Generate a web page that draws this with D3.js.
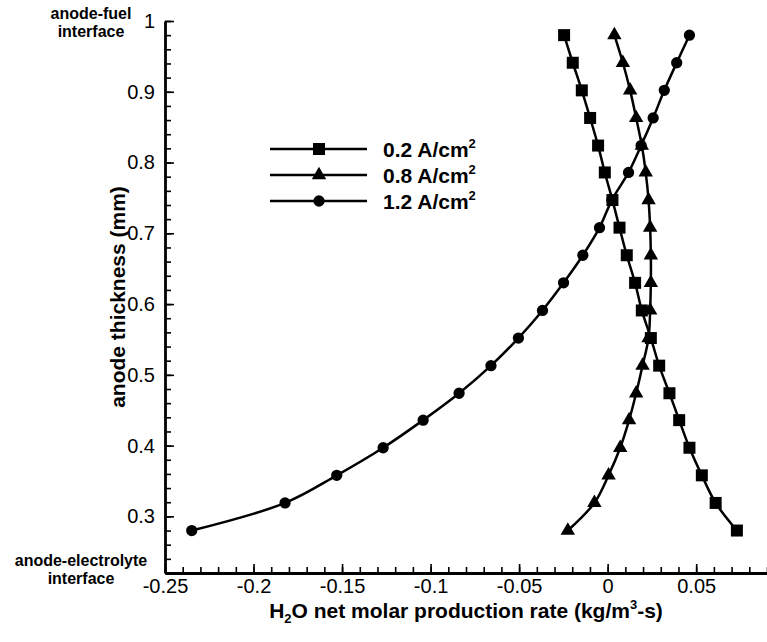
<!DOCTYPE html>
<html>
<head>
<meta charset="utf-8">
<script src="https://cdn.jsdelivr.net/npm/d3@7"></script>
<style>
  body { margin: 0; background: #fff; }
  text { font-family: 'Liberation Sans', Arial, Helvetica, sans-serif; }
</style>
</head>
<body>
<div id="chart"></div>
<script>
// anode positions (mm) shared by all three curves, bottom -> top
var thickness = [0.28, 0.319, 0.358, 0.397, 0.436, 0.474, 0.513, 0.552, 0.591, 0.63,
  0.669, 0.708, 0.747, 0.786, 0.824, 0.863, 0.902, 0.941, 0.98]

// H2O net molar production rate, one array per current density
var rate02 = [0.073, 0.061, 0.0532, 0.0462, 0.0404, 0.0349, 0.0291, 0.0244, 0.0193, 0.0155,
  0.0108, 0.0067, 0.0027, -0.0016, -0.0054, -0.0099, -0.0146, -0.0197, -0.0246]
var rate08 = [-0.0225, -0.0075, 0.0005, 0.0071, 0.0121, 0.0161, 0.0197, 0.0231, 0.024, 0.0244,
  0.0244, 0.024, 0.0231, 0.0215, 0.0193, 0.0161, 0.0127, 0.0086, 0.0038]
var rate12 = [-0.2349, -0.1822, -0.153, -0.1268, -0.1042, -0.0839, -0.0659, -0.0504, -0.0368, -0.0249,
  -0.014, -0.0046, 0.0024, 0.0118, 0.0189, 0.0257, 0.032, 0.039, 0.0462]

var seriesNames = ['0.2 A/cm', '0.8 A/cm', '1.2 A/cm']

var xTicks = [-0.25, -0.2, -0.15, -0.1, -0.05, 0, 0.05]
var yTicks = [0.3, 0.4, 0.5, 0.6, 0.7, 0.8, 0.9, 1]

var width = 767
var height = 642
var margin = { top: 21, left: 165, right: 0, bottom: 69 }
var plotW = width - margin.left - margin.right
var plotH = height - margin.top - margin.bottom

var svg = d3
  .select('#chart')
  .append('svg')
  .attr('width', width)
  .attr('height', height)

var g = svg
  .append('g')
  .attr('transform', 'translate(' + margin.left + ',' + margin.top + ')')

var xPositionScale = d3.scaleLinear().domain([-0.25, 0.09]).range([0, plotW])
var yPositionScale = d3.scaleLinear().domain([0.22, 1]).range([plotH, 0])

var series = [
  { name: seriesNames[0], values: rate02, symbol: d3.symbolSquare, size: 144 },
  { name: seriesNames[1], values: rate08, symbol: d3.symbolTriangle, size: 90 },
  { name: seriesNames[2], values: rate12, symbol: d3.symbolCircle, size: 100 }
]

var line = d3
  .line()
  .x(function(d) {
    return xPositionScale(d.x)
  })
  .y(function(d) {
    return yPositionScale(d.y)
  })
  .curve(d3.curveCatmullRom.alpha(0.5))

series.forEach(function(s) {
  var pts = s.values.map(function(v, i) {
    return { x: v, y: thickness[i] }
  })
  g.append('path')
    .datum(pts)
    .attr('d', line)
    .attr('fill', 'none')
    .attr('stroke', '#000')
    .attr('stroke-width', 2.5)

  g.selectAll(null)
    .data(pts)
    .enter()
    .append('path')
    .attr('d', d3.symbol().type(s.symbol).size(s.size))
    .attr('transform', function(d) {
      return 'translate(' + xPositionScale(d.x) + ',' + yPositionScale(d.y) + ')'
    })
    .attr('fill', '#000')
})

// axes: minor ticks first, then labelled major ticks
var fmt = function(d) {
  return String(+d.toFixed(2))
}

g.append('g')
  .attr('class', 'x-minor')
  .attr('transform', 'translate(0,' + plotH + ')')
  .call(d3.axisBottom(xPositionScale)
    .tickValues(d3.range(-25, 10).map(function(k) { return k / 100 }))
    .tickSize(-6)
    .tickSizeOuter(0)
    .tickFormat(''))

g.append('g')
  .attr('class', 'y-minor')
  .call(d3.axisLeft(yPositionScale)
    .tickValues(d3.range(11, 51).map(function(k) { return k / 50 }))
    .tickSize(-6)
    .tickSizeOuter(0)
    .tickFormat(''))

g.append('g')
  .attr('class', 'x-axis')
  .attr('transform', 'translate(0,' + plotH + ')')
  .call(d3.axisBottom(xPositionScale)
    .tickValues(xTicks)
    .tickSize(-9)
    .tickSizeOuter(0)
    .tickPadding(6)
    .tickFormat(fmt))

g.append('g')
  .attr('class', 'y-axis')
  .call(d3.axisLeft(yPositionScale)
    .tickValues(yTicks)
    .tickSize(-9)
    .tickSizeOuter(0)
    .tickPadding(10)
    .tickFormat(fmt))

g.selectAll('.x-minor path, .y-minor path').remove()
g.selectAll('.tick line').attr('stroke', '#000').attr('stroke-width', 1.6)
g.selectAll('.x-axis path, .y-axis path').attr('stroke', '#000').attr('stroke-width', 2.8)
g.selectAll('.x-axis text, .y-axis text')
  .attr('fill', '#000')
  .attr('font-size', 20)
  .attr('font-family', "'Liberation Sans', Arial, sans-serif")

// axis titles
var xTitle = svg
  .append('text')
  .attr('x', margin.left + plotW / 2)
  .attr('y', 618)
  .attr('text-anchor', 'middle')
  .attr('font-size', 21)
  .attr('font-weight', 'bold')
xTitle.append('tspan').text('H')
xTitle.append('tspan').attr('font-size', 13).attr('dy', 5).text('2')
xTitle.append('tspan').attr('dy', -5).text('O net molar production rate (kg/m')
xTitle.append('tspan').attr('font-size', 13).attr('dy', -9).text('3')
xTitle.append('tspan').attr('dy', 9).text('-s)')

svg
  .append('text')
  .attr('transform', 'translate(118,' + (margin.top + plotH / 2) + ') rotate(-90)')
  .attr('text-anchor', 'middle')
  .attr('dy', '0.35em')
  .attr('font-size', 21)
  .attr('font-weight', 'bold')
  .text('anode thickness (mm)')

// end labels on the thickness axis
var ends = [
  { lines: ['anode-fuel', 'interface'], x: 91, y: 19 },
  { lines: ['anode-electrolyte', 'interface'], x: 81, y: 566 }
]
ends.forEach(function(e) {
  e.lines.forEach(function(t, i) {
    svg
      .append('text')
      .attr('x', e.x)
      .attr('y', e.y + i * 18)
      .attr('text-anchor', 'middle')
      .attr('font-size', 16)
      .attr('font-weight', 'bold')
      .text(t)
  })
})

// legend
var legend = svg.append('g').attr('transform', 'translate(270,149)')
series.forEach(function(s, i) {
  var row = legend.append('g').attr('transform', 'translate(0,' + i * 26 + ')')
  row.append('line')
    .attr('x1', 0)
    .attr('x2', 97)
    .attr('stroke', '#000')
    .attr('stroke-width', 2.5)
  row.append('path')
    .attr('d', d3.symbol().type(s.symbol).size(s.size))
    .attr('transform', 'translate(49,0)')
    .attr('fill', '#000')
  var t = row.append('text')
    .attr('x', 113)
    .attr('dy', '0.36em')
    .attr('font-size', 21)
    .attr('font-weight', 'bold')
  t.append('tspan').text(s.name)
  t.append('tspan').attr('font-size', 13).attr('dy', -9).text('2')
})
</script>
</body>
</html>
